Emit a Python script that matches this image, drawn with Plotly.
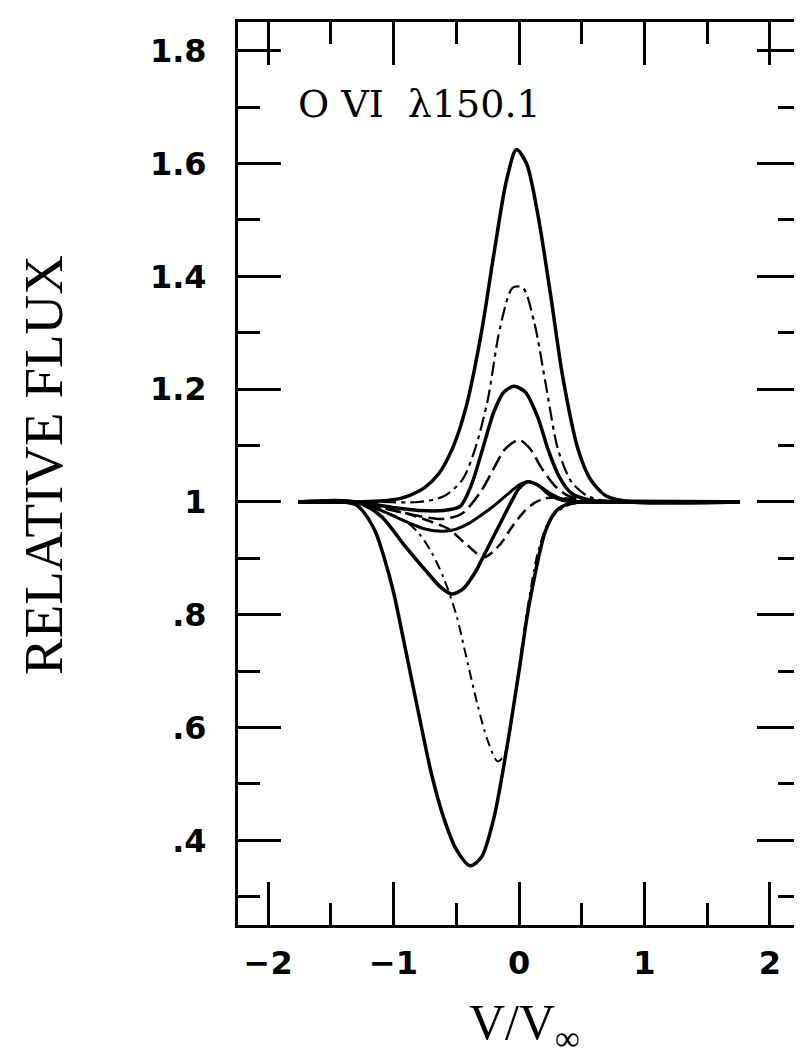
import plotly.graph_objects as go

# ---- data ----
vA = [-1.76, -1.3, -1.0, -0.88, -0.75, -0.64, -0.53, -0.42, -0.3, -0.2, -0.1, -0.02, 0.06, 0.15, 0.25, 0.35, 0.47, 0.57, 0.7, 0.9, 1.76]
fA = [1.0, 1.0, 1.004, 1.011, 1.026, 1.05, 1.095, 1.17, 1.30, 1.44, 1.57, 1.625, 1.6, 1.51, 1.37, 1.22, 1.094, 1.04, 1.01, 1.0, 1.0]

vB = [-1.76, -1.3, -1.1, -0.8, -0.6, -0.45, -0.35, -0.25, -0.15, -0.05, 0.03, 0.12, 0.22, 0.31, 0.42, 0.55, 0.7, 0.9, 1.76]
fB = [1.0, 1.0, 1.0, 1.0, 1.01, 1.04, 1.094, 1.18, 1.31, 1.38, 1.38, 1.32, 1.2, 1.094, 1.035, 1.01, 1.002, 1.0, 1.0]

vC = [-1.76, -1.3, -1.0, -0.8, -0.6, -0.47, -0.38, -0.29, -0.2, -0.12, -0.04, 0.05, 0.15, 0.23, 0.32, 0.42, 0.55, 0.7, 0.9, 1.76]
fC = [1.0, 1.0, 0.99, 0.985, 0.985, 0.992, 1.03, 1.094, 1.16, 1.195, 1.205, 1.195, 1.15, 1.094, 1.045, 1.015, 1.004, 1.0, 1.0, 1.0]

vD = [-1.76, -1.3, -1.0, -0.8, -0.6, -0.45, -0.3, -0.2, -0.11, 0.0, 0.09, 0.18, 0.28, 0.38, 0.5, 0.7, 0.9, 1.76]
fD = [1.0, 1.0, 0.985, 0.975, 0.97, 0.98, 1.02, 1.06, 1.094, 1.11, 1.094, 1.06, 1.03, 1.012, 1.003, 1.0, 1.0, 1.0]

vE = [-1.76, -1.3, -1.1, -0.9, -0.75, -0.6, -0.5, -0.4, -0.3, -0.2, -0.1, 0.0, 0.07, 0.15, 0.25, 0.35, 0.5, 0.9, 1.76]
fE = [1.0, 1.0, 0.985, 0.965, 0.952, 0.948, 0.952, 0.962, 0.977, 0.993, 1.012, 1.03, 1.036, 1.03, 1.015, 1.005, 1.0, 1.0, 1.0]

vF = [-1.76, -1.3, -1.1, -0.9, -0.7, -0.56, -0.42, -0.28, -0.15, -0.05, 0.05, 0.12, 0.2, 0.3, 0.45, 0.6, 0.9, 1.76]
fF = [1.0, 1.0, 0.99, 0.98, 0.965, 0.952, 0.925, 0.902, 0.925, 0.958, 0.985, 0.998, 1.006, 1.008, 1.004, 1.001, 1.0, 1.0]

vG = [-1.76, -1.3, -1.1, -0.9, -0.8, -0.7, -0.6, -0.5, -0.42, -0.33, -0.25, -0.17, -0.11, -0.03, 0.06, 0.15, 0.25, 0.4, 0.6, 0.9, 1.76]
fG = [1.0, 1.0, 0.985, 0.965, 0.945, 0.912, 0.865, 0.8, 0.725, 0.64, 0.577, 0.54, 0.555, 0.66, 0.8, 0.91, 0.97, 0.995, 1.0, 1.0, 1.0]

vH = [-1.76, -1.4, -1.3, -1.25, -1.2, -1.14, -1.08, -1.0, -0.92, -0.8, -0.7, -0.6, -0.5, -0.39, -0.3, -0.2, -0.1, 0.0, 0.08, 0.21, 0.3, 0.4, 0.5, 1.76]
fH = [1.0, 1.0, 0.995, 0.985, 0.97, 0.945, 0.905, 0.84, 0.755, 0.625, 0.52, 0.44, 0.384, 0.355, 0.37, 0.44, 0.56, 0.70, 0.817, 0.948, 0.985, 0.997, 1.0, 1.0]

vK = [-1.76, -1.3, -1.1, -0.92, -0.75, -0.62, -0.54, -0.45, -0.35, -0.28, -0.15, -0.05, 0.0, 0.07, 0.15, 0.25, 0.35, 0.5, 0.9, 1.76]
fK = [1.0, 1.0, 0.975, 0.925, 0.88, 0.848, 0.837, 0.845, 0.875, 0.905, 0.962, 1.005, 1.024, 1.036, 1.03, 1.012, 1.003, 1.0, 1.0, 1.0]

x_ticks = [-2, -1, 0, 1, 2]
x_ticktext = ["\u22122", "\u22121", "0", "1", "2"]
x_minor = [-1.5, -0.5, 0.5, 1.5]
y_ticks = [0.4, 0.6, 0.8, 1.0, 1.2, 1.4, 1.6, 1.8]
y_ticktext = [".4", ".6", ".8", "1", "1.2", "1.4", "1.6", "1.8"]
y_minor = [0.3, 0.5, 0.7, 0.9, 1.1, 1.3, 1.5, 1.7]

curves = [
    (vA, fA, 3.5, "solid"),
    (vB, fB, 2.2, "14px,5px,4px,5px"),
    (vC, fC, 3.5, "solid"),
    (vD, fD, 2.5, "16px,6px"),
    (vE, fE, 3.0, "solid"),
    (vF, fF, 2.5, "12px,6px"),
    (vG, fG, 2.0, "10px,5px,3px,5px"),
    (vH, fH, 3.5, "solid"),
    (vK, fK, 3.5, "solid"),
]

fig = go.Figure()
for vx, fy, w, d in curves:
    fig.add_trace(go.Scatter(x=vx, y=fy, mode="lines",
                             line=dict(color="black", width=w, dash=d, shape="spline", smoothing=0.8),
                             showlegend=False, hoverinfo="skip"))

tickfont = dict(family="DejaVu Sans", size=32, color="black", weight="bold")
axis_common = dict(showgrid=False, zeroline=False, showline=True, linecolor="black", linewidth=3,
                   mirror="ticks", ticks="inside", ticklen=43, tickwidth=3, tickcolor="black",
                   tickfont=tickfont)

fig.update_xaxes(range=[-2.24, 2.24], tickvals=x_ticks, ticktext=x_ticktext,
                 minor=dict(tickvals=x_minor, ticks="inside", ticklen=22, tickwidth=3, tickcolor="black"),
                 ticklabelstandoff=8, **axis_common)
fig.update_yaxes(range=[0.25, 1.851], tickvals=y_ticks, ticktext=y_ticktext,
                 minor=dict(tickvals=y_minor, ticks="inside", ticklen=22, tickwidth=3, tickcolor="black"),
                 ticklabelstandoff=22, **axis_common)

fig.add_annotation(text="O VI\u00a0 \u03bb150.1", xref="paper", yref="paper",
                   x=(288 - 230) / 565, y=(917 - 96) / 903, xanchor="left", yanchor="middle",
                   showarrow=False, font=dict(family="DejaVu Serif", size=38, color="black"))
fig.add_annotation(text="RELATIVE FLUX", xref="paper", yref="paper",
                   x=(34 - 230) / 565, y=(917 - 457) / 903, xanchor="center", yanchor="middle",
                   textangle=-90, showarrow=False,
                   font=dict(family="Liberation Serif", size=55, color="black"))
fig.add_annotation(text="V/V<sub>\u221e</sub>", xref="paper", yref="paper",
                   x=(518 - 230) / 565, y=-(1018 - 917) / 903, xanchor="center", yanchor="middle",
                   showarrow=False, font=dict(family="Liberation Serif", size=50, color="black"))

fig.update_layout(width=802, height=1058, margin=dict(l=230, r=7, t=14, b=141),
                  plot_bgcolor="white", paper_bgcolor="white")

fig.write_html("out.html")
